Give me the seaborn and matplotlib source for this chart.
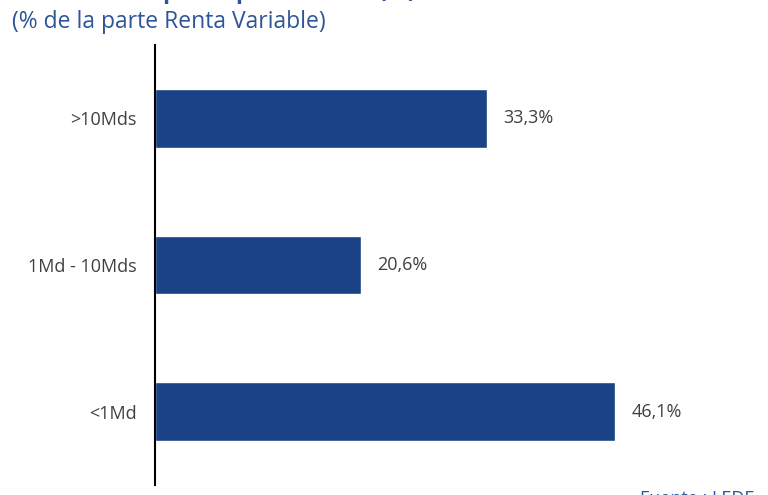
import matplotlib
matplotlib.use("Agg")
import matplotlib.pyplot as plt
import seaborn as sns
import pandas as pd

# Data
categories = [">10Mds", "1Md - 10Mds", "<1Md"]
values = [33.3, 20.6, 46.1]
value_labels = ["33,3%", "20,6%", "46,1%"]

df = pd.DataFrame({"cat": categories, "val": values})

sns.set_style("white")
plt.rcParams['font.family'] = ['Open Sans', 'DejaVu Sans']

bar_color = "#1A4286"
text_grey = "#404040"
title_blue = "#2E5597"

fig = plt.figure(figsize=(7.68, 4.95), dpi=100)
ax = fig.add_axes([155 / 768, 10 / 495, 613 / 768, 440 / 495])

sns.barplot(data=df, x="val", y="cat", color=bar_color, width=0.4, ax=ax,
            saturation=1)

ax.set_xlim(0, 61.4)
ax.set_ylim(2.5, -0.5)
ax.set_xlabel("")
ax.set_ylabel("")
ax.set_xticks([])
for s in ["top", "right", "bottom"]:
    ax.spines[s].set_visible(False)
ax.spines["left"].set_color("black")
ax.spines["left"].set_linewidth(1.5)
ax.tick_params(axis="y", length=0, pad=13, labelsize=13, labelcolor=text_grey)

for i, (v, lab) in enumerate(zip(values, value_labels)):
    ax.text(v + 1.6, i, lab, va="center", ha="left", fontsize=13, color=text_grey)

# Titles (top title partly cut off, as in the source)
fig.text(12 / 768, 1 - (-2) / 495, "Distribución por capitalización (%)",
         ha="left", va="baseline", fontsize=17, fontweight="bold", color=title_blue)
fig.text(12 / 768, 1 - 28 / 495, "(% de la parte Renta Variable)",
         ha="left", va="baseline", fontsize=16.5, color=title_blue)
fig.text(640 / 768, 1 - 504 / 495, "Fuente : LEDE",
         ha="left", va="baseline", fontsize=13, color=title_blue)

fig.savefig("out.png", dpi=100)
